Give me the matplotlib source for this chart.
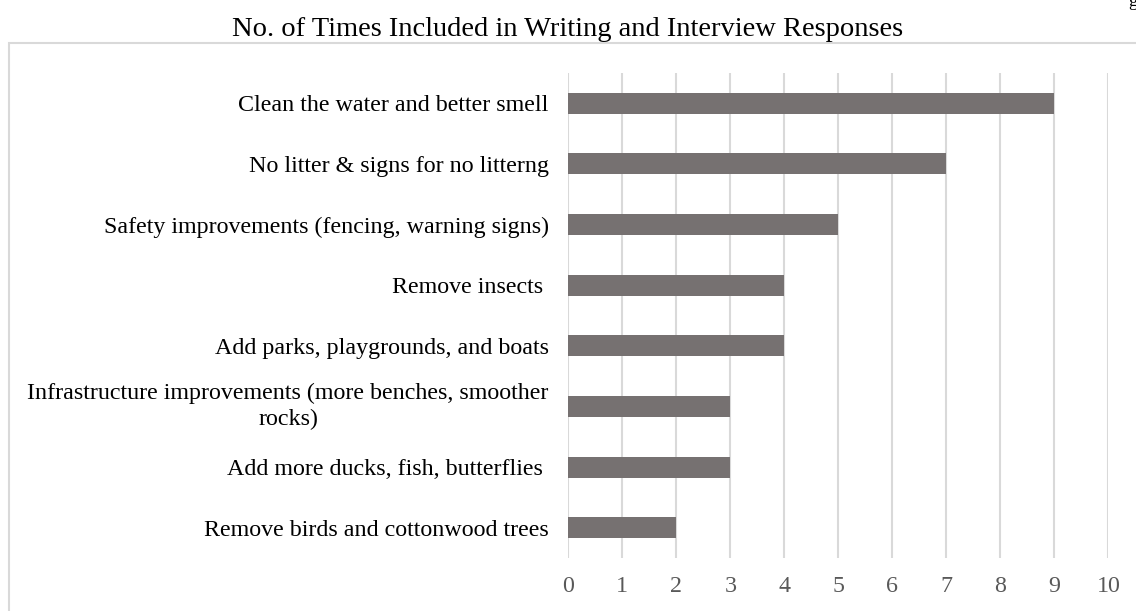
import matplotlib
matplotlib.use("Agg")
import matplotlib.pyplot as plt
from matplotlib.patches import Rectangle

# Response categories (top to bottom) and how often each was mentioned
categories = [
    "Clean the water and better smell",
    "No litter & signs for no litterng",
    "Safety improvements (fencing, warning signs)",
    "Remove insects ",
    "Add parks, playgrounds, and boats",
    "Infrastructure improvements (more benches, smoother\nrocks)",
    "Add more ducks, fish, butterflies ",
    "Remove birds and cottonwood trees",
]
counts = [9, 7, 5, 4, 4, 3, 3, 2]
x_ticks = list(range(0, 11))
title = "No. of Times Included in Writing and Interview Responses"

W, H = 1136, 611
fig = plt.figure(figsize=(W / 100, H / 100), dpi=100)
plt.rcParams["font.family"] = ["Liberation Serif", "DejaVu Serif"]

# light outer frame of the chart area (runs past the right and bottom edges)
fig.add_artist(Rectangle((8.5 / W, -0.1), 1.2, 1 - 43 / H + 0.1,
                         transform=fig.transFigure, fill=False,
                         edgecolor="#D9D9D9", linewidth=1.5))

ax = fig.add_axes([568.3 / W, 1 - 558 / H, 540 / W, 485 / H])
ypos = list(range(len(categories)))
ax.barh(ypos, counts, height=0.345, color="#767171", zorder=3)
ax.set_ylim(len(categories) - 0.5, -0.5)
ax.set_xlim(0, 10)
ax.set_xticks(x_ticks)
ax.set_xticklabels([str(t) for t in x_ticks], fontsize=17.3, color="#595959")
ax.set_yticks(ypos)
ax.set_yticklabels(categories, fontsize=17.3, color="#000000",
                   multialignment="center", linespacing=1.3)
for lbl in ax.get_yticklabels():
    if "\n" in lbl.get_text():
        lbl.set_va("center")
ax.tick_params(axis="both", length=0)
ax.tick_params(axis="x", pad=13)
ax.tick_params(axis="y", pad=14)
ax.xaxis.grid(True, color="#D9D9D9", linewidth=1.5, zorder=0)
for s in ax.spines.values():
    s.set_visible(False)

fig.text(568 / W, 1 - 29 / H, title, ha="center", va="center",
         fontsize=20.5, color="#000000")
# fragment of page header text at the top-right corner
fig.text(1128 / W, 1 - 2 / H, "g", ha="left", va="center",
         fontsize=13.5, color="#000000")

fig.savefig("out.png", dpi=100)
